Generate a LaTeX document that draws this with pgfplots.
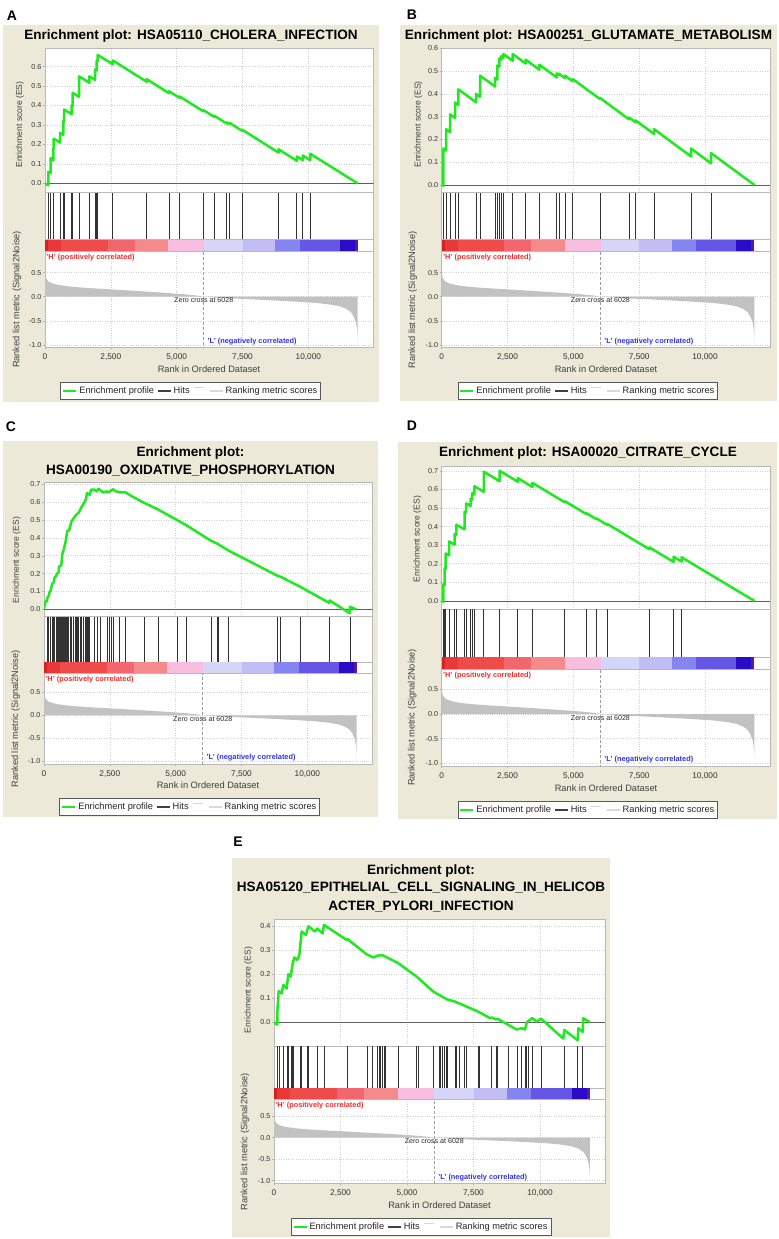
\documentclass[border=0pt]{standalone}
\usepackage{fontspec}
\setmainfont{Liberation Sans}
\usepackage{pgfplots}
\usepackage{pgfplotstable}
\pgfplotsset{compat=1.18}

\definecolor{beige}{HTML}{ECE9D8}
\definecolor{esgreen}{HTML}{1FEA1F}
\definecolor{Hred}{HTML}{F42A2A}
\definecolor{Lblue}{HTML}{3030F5}
\definecolor{cbA}{HTML}{D62222}
\definecolor{cbB}{HTML}{E83838}
\definecolor{cbC}{HTML}{F04B4B}
\definecolor{cbD}{HTML}{F2666E}
\definecolor{cbE}{HTML}{F58A8C}
\definecolor{cbF}{HTML}{F8BEE0}
\definecolor{cbG}{HTML}{D5D5F8}
\definecolor{cbH}{HTML}{C2BDF5}
\definecolor{cbI}{HTML}{8585F2}
\definecolor{cbJ}{HTML}{6656E6}
\definecolor{cbK}{HTML}{2A0CC8}
\definecolor{cbL}{HTML}{5A1A9E}

\newcommand{\ttlfont}{\bfseries\fontsize{13.6}{16}\selectfont}
\newcommand{\letfont}{\bfseries\fontsize{14}{16}\selectfont}
\newcommand{\eslfont}{\fontsize{8.6}{10}\selectfont}
\newcommand{\axlfont}{\fontsize{9.3}{11}\selectfont}
\newcommand{\ytfont}{\fontsize{7.2}{8}\selectfont}
\newcommand{\xtfont}{\fontsize{8.3}{9}\selectfont}
\newcommand{\lgfont}{\fontsize{9.3}{11}\selectfont}
\newcommand{\hlfont}{\bfseries\fontsize{7.4}{8}\selectfont}
\newcommand{\zcfont}{\fontsize{7.1}{8}\selectfont}

% ranked list metric (shared by all panels)
\pgfplotstableread[row sep=\\]{x y\\0 0\\0 0.5\\15 0.44\\40 0.39\\80 0.35\\130 0.32\\200 0.295\\320 0.27\\500 0.245\\800 0.22\\1200 0.198\\1700 0.178\\2500 0.152\\3300 0.125\\4000 0.1\\4700 0.075\\5300 0.05\\5800 0.022\\6028 0.0\\6500 -0.018\\7200 -0.038\\8000 -0.058\\8800 -0.08\\9600 -0.105\\10300 -0.13\\10800 -0.16\\11200 -0.2\\11450 -0.255\\11620 -0.32\\11720 -0.41\\11800 -0.52\\11845 -0.65\\11868 -0.8\\11876 -0.97\\11876 0\\}\metrictable

% running enrichment scores
\pgfplotstableread[row sep=\\]{x y\\0 0\\60 -0.005\\127 -0.01\\127 0.06\\215 0.053\\215 0.13\\317 0.118\\317 0.18\\330 0.179\\330 0.23\\570 0.21\\570 0.26\\697 0.25\\697 0.32\\722 0.318\\722 0.38\\1014 0.355\\1014 0.40\\1052 0.397\\1052 0.465\\1292 0.445\\1292 0.55\\1685 0.517\\1685 0.55\\1900 0.532\\1900 0.585\\1964 0.58\\1964 0.63\\2002 0.627\\2002 0.66\\2572 0.612\\2572 0.632\\3864 0.522\\3864 0.535\\4713 0.463\\4713 0.473\\5106 0.44\\5106 0.447\\6018 0.37\\6018 0.376\\6424 0.342\\6424 0.348\\6905 0.307\\6905 0.313\\7006 0.305\\7006 0.311\\7500 0.269\\7500 0.275\\8869 0.158\\8869 0.175\\9566 0.116\\9566 0.138\\9794 0.119\\9794 0.143\\10073 0.119\\10073 0.152\\11876 0\\}\esA

\pgfplotstableread[row sep=\\]{x y\\0 0\\63 -0.004\\63 0.16\\165 0.151\\165 0.245\\317 0.232\\317 0.31\\506 0.294\\506 0.362\\633 0.351\\633 0.42\\1304 0.363\\1304 0.40\\1456 0.387\\1456 0.48\\2026 0.432\\2026 0.47\\2114 0.463\\2114 0.525\\2190 0.519\\2190 0.555\\2253 0.55\\2253 0.565\\2342 0.557\\2342 0.575\\2697 0.545\\2697 0.575\\3190 0.533\\3190 0.55\\3709 0.506\\3709 0.528\\4368 0.472\\4368 0.49\\4456 0.482\\4456 0.488\\4684 0.469\\4684 0.48\\4975 0.455\\4975 0.465\\6014 0.377\\6014 0.382\\7115 0.288\\7115 0.296\\7368 0.275\\7368 0.283\\8064 0.224\\8064 0.245\\9470 0.125\\9470 0.16\\10229 0.095\\10229 0.14\\11876 0\\}\esB

\pgfplotstableread[row sep=\\]{x y\\0 0\\30 0.035\\88 0.05\\114 0.045\\114 0.06\\150 0.07\\177 0.075\\215 0.1\\240 0.1\\316 0.145\\366 0.15\\404 0.18\\455 0.185\\493 0.2\\556 0.205\\568 0.24\\640 0.245\\657 0.25\\695 0.31\\758 0.34\\821 0.38\\884 0.44\\935 0.44\\972 0.45\\1036 0.49\\1124 0.51\\1225 0.53\\1314 0.54\\1415 0.57\\1541 0.6\\1600 0.62\\1629 0.65\\1700 0.645\\1730 0.64\\1793 0.67\\1920 0.67\\1990 0.66\\2071 0.675\\2235 0.655\\2387 0.66\\2450 0.655\\2614 0.672\\2741 0.66\\2900 0.655\\3094 0.655\\3372 0.63\\3751 0.6\\4319 0.56\\5052 0.5\\5393 0.472\\6340 0.384\\6580 0.368\\6972 0.332\\8841 0.19\\8993 0.182\\9725 0.127\\10824 0.037\\10849 0.05\\11519 -0.013\\11615 -0.021\\11620 0.015\\11860 0\\}\esC

\pgfplotstableread[row sep=\\]{x y\\0 0\\63 -0.005\\63 0.09\\113 0.086\\113 0.175\\151 0.172\\151 0.255\\277 0.245\\277 0.32\\491 0.302\\491 0.36\\553 0.355\\553 0.41\\868 0.385\\868 0.48\\931 0.475\\931 0.525\\1094 0.511\\1094 0.55\\1157 0.545\\1157 0.58\\1245 0.572\\1245 0.617\\1598 0.587\\1598 0.695\\2202 0.644\\2202 0.70\\2893 0.641\\2893 0.66\\3447 0.613\\3447 0.635\\4680 0.53\\4680 0.536\\5497 0.467\\5497 0.472\\5875 0.44\\5875 0.444\\6277 0.41\\6277 0.415\\7888 0.278\\7888 0.288\\8806 0.21\\8806 0.238\\9108 0.212\\9108 0.235\\11876 0\\}\esD

\pgfplotstableread[row sep=\\]{x y\\0 0\\75 -0.007\\125 -0.01\\125 0.04\\175 0.13\\288 0.12\\351 0.155\\476 0.14\\539 0.2\\627 0.19\\702 0.245\\764 0.27\\877 0.26\\952 0.28\\1002 0.335\\1040 0.378\\1203 0.364\\1291 0.4\\1541 0.378\\1629 0.39\\1829 0.37\\1880 0.405\\2732 0.343\\2769 0.346\\3483 0.283\\3734 0.27\\3884 0.277\\4047 0.28\\4198 0.273\\4674 0.246\\5363 0.19\\5989 0.128\\6491 0.096\\6804 0.086\\7243 0.065\\7681 0.044\\7750 0.04\\8120 0.017\\8184 0.02\\8346 0.012\\8400 0.015\\8809 -0.011\\9122 -0.03\\9312 -0.025\\9436 -0.03\\9500 -0.002\\9560 0.005\\9711 0.017\\9874 0.003\\10038 0.015\\10876 -0.068\\10914 -0.032\\11417 -0.075\\11440 -0.025\\11605 -0.04\\11628 0.017\\11876 0\\}\esE

% hits
\pgfplotstableread[row sep=\\]{x y\\127 1\\215 1\\317 1\\570 1\\697 1\\722 1\\1014 1\\1052 1\\1292 1\\1685 1\\1900 1\\1964 1\\2002 1\\2572 1\\3864 1\\4713 1\\5106 1\\6018 1\\6424 1\\6905 1\\7006 1\\7500 1\\8869 1\\9566 1\\9794 1\\10073 1\\}\hitsA
\pgfplotstableread[row sep=\\]{x y\\63 1\\165 1\\317 1\\506 1\\633 1\\1304 1\\1456 1\\2026 1\\2114 1\\2190 1\\2253 1\\2342 1\\2697 1\\3190 1\\3709 1\\4368 1\\4456 1\\4684 1\\4975 1\\6014 1\\7115 1\\7368 1\\8064 1\\9470 1\\10229 1\\}\hitsB
\pgfplotstableread[row sep=\\]{x y\\114 1\\177 1\\240 1\\303 1\\366 1\\404 1\\455 1\\518 1\\556 1\\594 1\\620 1\\650 1\\680 1\\710 1\\740 1\\770 1\\800 1\\830 1\\860 1\\890 1\\920 1\\998 1\\1061 1\\1124 1\\1187 1\\1225 1\\1276 1\\1326 1\\1377 1\\1440 1\\1503 1\\1566 1\\1604 1\\1655 1\\1705 1\\1730 1\\1907 1\\2033 1\\2134 1\\2412 1\\2475 1\\2551 1\\2640 1\\2867 1\\3107 1\\3802 1\\4345 1\\5077 1\\5418 1\\6366 1\\6580 1\\6643 1\\6997 1\\8866 1\\8993 1\\9750 1\\10849 1\\11620 1\\}\hitsC
\pgfplotstableread[row sep=\\]{x y\\63 1\\113 1\\151 1\\277 1\\491 1\\553 1\\868 1\\931 1\\1094 1\\1157 1\\1245 1\\1598 1\\2202 1\\2893 1\\3447 1\\4680 1\\5497 1\\5875 1\\6277 1\\7888 1\\8806 1\\9108 1\\}\hitsD
\pgfplotstableread[row sep=\\]{x y\\125 1\\200 1\\351 1\\501 1\\539 1\\664 1\\702 1\\727 1\\977 1\\1015 1\\1253 1\\1291 1\\1629 1\\1880 1\\2769 1\\3521 1\\3709 1\\3884 1\\3947 1\\4010 1\\4072 1\\4147 1\\4198 1\\4674 1\\5363 1\\5425 1\\5989 1\\6215 1\\6265 1\\6328 1\\6403 1\\6465 1\\6516 1\\6804 1\\6841 1\\6967 1\\7142 1\\7243 1\\7681 1\\7719 1\\8184 1\\8346 1\\8395 1\\8808 1\\9162 1\\9312 1\\9436 1\\9500 1\\9560 1\\9711 1\\10038 1\\10914 1\\11417 1\\11605 1\\}\hitsE

\newcommand{\cseg}[3]{\addplot[draw=none, fill=#3] coordinates {(#1,1) (#2,1)} \closedcycle;}
\newcommand{\colorbar}{%
  \cseg{0}{115}{cbA}\cseg{110}{605}{cbB}\cseg{600}{2388}{cbC}\cseg{2383}{3405}{cbD}%
  \cseg{3400}{4669}{cbE}\cseg{4664}{6038}{cbF}\cseg{6033}{7508}{cbG}\cseg{7503}{8750}{cbH}%
  \cseg{8745}{9675}{cbI}\cseg{9670}{11196}{cbJ}\cseg{11191}{11765}{cbK}\cseg{11760}{11876}{cbL}}

\newcommand{\gsealegend}{%
  \addlegendimage{esgreen, line width=2bp}\addlegendentry{Enrichment profile}
  \addlegendimage{black!75, line width=1.2bp}\addlegendentry{Hits}
  \addlegendimage{legend image code/.code={\draw[gray!30, line width=0.8bp] (0bp,4bp) -- (10bp,4bp);}}\addlegendentry{}
  \addlegendimage{gray!30, line width=1.2bp}\addlegendentry{Ranking metric scores}}

\newcommand{\metricplots}{%
  \addplot[draw=none, fill=gray!48] table {\metrictable} \closedcycle;
  \addplot[densely dashed, gray!75, line width=0.6bp] coordinates {(6028,-1.3) (6028,1.3)};
  \node[anchor=north west, inner sep=1.2bp, yshift=-1.5bp, text=Hred, font=\hlfont] at (rel axis cs:0,1) {'H' (positively correlated)};
  \node[anchor=west, inner sep=0.5bp, text=Lblue, font=\hlfont] at (axis cs:6150,-0.93) {'L' (negatively correlated)};
  \node[inner sep=0.5bp, text=black!85, font=\zcfont] at (axis cs:6028,-0.075) {Zero cross at 6028};}

\pgfplotsset{
  gbase/.style={scale only axis, anchor=north west, xmin=0, xmax=12475,
    scaled x ticks=false, scaled y ticks=false,
    axis background/.style={fill=white},
    axis line style={gray!55, line width=0.6bp}, clip=true},
  gnum/.style={/pgf/number format/fixed, /pgf/number format/fixed zerofill,
    /pgf/number format/precision=1, /pgf/number format/assume math mode=true},
  es/.style={gbase, gnum,
    xtick={2500,5000,7500,10000}, xticklabels={}, xtick pos=bottom, ytick pos=left,
    tick align=outside, major tick length=2bp,
    tick style={gray!60, line width=0.5bp},
    xmajorgrids, ymajorgrids,
    grid style={dotted, gray!35, line width=0.6bp},
    yticklabel style={font=\ytfont, text=black!80, inner sep=1.5bp}},
  hitsax/.style={gbase, ymin=0, ymax=1, xtick=\empty, ytick=\empty},
  metric/.style={gbase, gnum,
    ytick={-1,-0.5,0,0.5},
    xtick={0,2500,5000,7500,10000}, xticklabels={0,{2,500},{5,000},{7,500},{10,000}},
    xtick pos=bottom, ytick pos=left,
    tick align=outside, major tick length=2bp, tick style={gray!60, line width=0.5bp},
    xmajorgrids, ymajorgrids, grid style={dotted, gray!35, line width=0.6bp},
    yticklabel style={font=\ytfont, text=black!80, inner sep=1.5bp},
    xticklabel style={font=\xtfont, text=black!80, inner sep=1.5bp, yshift=-3bp},
    legend columns=-1,
    legend style={draw=black!65, line width=0.8bp, fill=white, font=\lgfont, text=black!85,
      anchor=north, inner xsep=1.5bp, inner ysep=2.5bp,
      /tikz/every even column/.append style={column sep=1.5bp}},
    legend image code/.code={\draw[##1] (0bp,0bp) -- (13bp,0bp);}},
}

\begin{document}
\begin{tikzpicture}[x=1bp,y=1bp]
% panel backgrounds
\fill[beige] (3,-25) rectangle (379,-402);
\fill[beige] (400,-25) rectangle (777,-401);
\fill[beige] (3,-441) rectangle (378,-817);
\fill[beige] (398.3,-441.7) rectangle (777,-819);
\fill[beige] (232,-858) rectangle (610,-1237);

% panel letters
\node[anchor=base, font=\letfont] at (12,-20) {A};
\node[anchor=base, font=\letfont] at (412,-19.5) {B};
\node[anchor=base, font=\letfont] at (11,-431) {C};
\node[anchor=base, font=\letfont] at (412,-430) {D};
\node[anchor=base, font=\letfont] at (238,-846) {E};

% titles
\node[anchor=base, font=\ttlfont] at (191,-39.9) {Enrichment plot: HSA05110\_CHOLERA\_INFECTION};
\node[anchor=base, font=\ttlfont] at (588.5,-39.9) {Enrichment plot: HSA00251\_GLUTAMATE\_METABOLISM};
\node[anchor=base, font=\ttlfont] at (190.5,-456) {Enrichment plot:};
\node[anchor=base, font=\ttlfont] at (190.5,-474.3) {HSA00190\_OXIDATIVE\_PHOSPHORYLATION};
\node[anchor=base, font=\ttlfont] at (588,-456) {Enrichment plot: HSA00020\_CITRATE\_CYCLE};
\node[anchor=base, font=\ttlfont] at (421,-874) {Enrichment plot:};
\node[anchor=base, font=\ttlfont] at (421,-891.7) {HSA05120\_EPITHELIAL\_CELL\_SIGNALING\_IN\_HELICOB};
\node[anchor=base, font=\ttlfont] at (421,-910) {ACTER\_PYLORI\_INFECTION};

% ================= Panel A =================
\begin{axis}[es, at={(45bp,-48.3bp)}, width=328.5bp, height=144.4bp, ymin=-0.048, ymax=0.694, ytick={0,0.1,0.2,0.3,0.4,0.5,0.6}]
\addplot[gray!75!black, line width=0.7bp] coordinates {(0,0) (12475,0)};
\addplot[esgreen, line width=2.5bp, line join=round] table {\esA};
\end{axis}
\begin{axis}[hitsax, at={(45bp,-192.7bp)}, width=328.5bp, height=47bp]
\addplot[ycomb, black!80, line width=0.9bp] table {\hitsA};
\end{axis}
\begin{axis}[hitsax, at={(45bp,-239.7bp)}, width=328.5bp, height=12bp]
\colorbar
\end{axis}
\begin{axis}[metric, at={(45bp,-251.7bp)}, width=328.5bp, height=95.6bp, ymin=-1.048, ymax=0.932, legend style={at={(0.444,-0.363)}}]
\gsealegend
\metricplots
\end{axis}
\node[rotate=90, font=\eslfont, text=black!75] at (20,-124.6) {Enrichment score (ES)};
\node[rotate=90, font=\axlfont, text=black!75] at (17,-299.5) {Ranked list metric (Signal2Noise)};
\node[anchor=base, font=\axlfont, text=black!75] at (209,-372.7) {Rank in Ordered Dataset};

% ================= Panel B =================
\begin{axis}[es, at={(441.7bp,-48.3bp)}, width=328.5bp, height=144.4bp, ymin=-0.034, ymax=0.6, ytick={0,0.1,0.2,0.3,0.4,0.5,0.6}]
\addplot[gray!75!black, line width=0.7bp] coordinates {(0,0) (12475,0)};
\addplot[esgreen, line width=2.5bp, line join=round] table {\esB};
\end{axis}
\begin{axis}[hitsax, at={(441.7bp,-192.7bp)}, width=328.5bp, height=47bp]
\addplot[ycomb, black!80, line width=0.9bp] table {\hitsB};
\end{axis}
\begin{axis}[hitsax, at={(441.7bp,-239.7bp)}, width=328.5bp, height=12bp]
\colorbar
\end{axis}
\begin{axis}[metric, at={(441.7bp,-251.7bp)}, width=328.5bp, height=95.6bp, ymin=-1.048, ymax=0.932, legend style={at={(0.445,-0.363)}}]
\gsealegend
\metricplots
\end{axis}
\node[rotate=90, font=\eslfont, text=black!75] at (418.3,-124.5) {Enrichment score (ES)};
\node[rotate=90, font=\axlfont, text=black!75] at (412.7,-300) {Ranked list metric (Signal2Noise)};
\node[anchor=base, font=\axlfont, text=black!75] at (606,-372.7) {Rank in Ordered Dataset};

% ================= Panel C =================
\begin{axis}[es, at={(44bp,-482.3bp)}, width=328.5bp, height=134.4bp, ymin=-0.041, ymax=0.711, ytick={0,0.1,0.2,0.3,0.4,0.5,0.6,0.7}]
\addplot[gray!75!black, line width=0.7bp] coordinates {(0,0) (12475,0)};
\addplot[esgreen, line width=2.5bp, line join=round] table {\esC};
\end{axis}
\begin{axis}[hitsax, at={(44bp,-616.7bp)}, width=328.5bp, height=45.6bp]
\addplot[ycomb, black!80, line width=0.9bp] table {\hitsC};
\end{axis}
\begin{axis}[hitsax, at={(44bp,-662.3bp)}, width=328.5bp, height=11.4bp]
\colorbar
\end{axis}
\begin{axis}[metric, at={(44bp,-673.7bp)}, width=328.5bp, height=90.3bp, ymin=-1.066, ymax=0.91, legend style={at={(0.444,-0.377)}}]
\gsealegend
\metricplots
\end{axis}
\node[rotate=90, font=\eslfont, text=black!75] at (16.7,-560) {Enrichment score (ES)};
\node[rotate=90, font=\axlfont, text=black!75] at (15.7,-719) {Ranked list metric (Signal2Noise)};
\node[anchor=base, font=\axlfont, text=black!75] at (208,-788.7) {Rank in Ordered Dataset};

% ================= Panel D =================
\begin{axis}[es, at={(441.7bp,-466.7bp)}, width=328.5bp, height=142.6bp, ymin=-0.045, ymax=0.722, ytick={0,0.1,0.2,0.3,0.4,0.5,0.6,0.7}]
\addplot[gray!75!black, line width=0.7bp] coordinates {(0,0) (12475,0)};
\addplot[esgreen, line width=2.5bp, line join=round] table {\esD};
\end{axis}
\begin{axis}[hitsax, at={(441.7bp,-609.3bp)}, width=328.5bp, height=48bp]
\addplot[ycomb, black!80, line width=0.9bp] table {\hitsD};
\end{axis}
\begin{axis}[hitsax, at={(441.7bp,-657.3bp)}, width=328.5bp, height=12bp]
\colorbar
\end{axis}
\begin{axis}[metric, at={(441.7bp,-669.3bp)}, width=328.5bp, height=96.7bp, ymin=-1.055, ymax=0.907, legend style={at={(0.445,-0.362)}}]
\gsealegend
\metricplots
\end{axis}
\node[rotate=90, font=\eslfont, text=black!75] at (417.3,-539) {Enrichment score (ES)};
\node[rotate=90, font=\axlfont, text=black!75] at (412.3,-717.5) {Ranked list metric (Signal2Noise)};
\node[anchor=base, font=\axlfont, text=black!75] at (606,-791) {Rank in Ordered Dataset};

% ================= Panel E =================
\begin{axis}[es, at={(274bp,-919bp)}, width=331bp, height=127bp, xmax=12445, ymin=-0.099, ymax=0.43, ytick={0,0.1,0.2,0.3,0.4}]
\addplot[gray!75!black, line width=0.7bp] coordinates {(0,0) (12445,0)};
\addplot[esgreen, line width=2.5bp, line join=round] table {\esE};
\end{axis}
\begin{axis}[hitsax, at={(274bp,-1046bp)}, width=331bp, height=42.3bp, xmax=12445]
\addplot[ycomb, black!80, line width=0.9bp] table {\hitsE};
\end{axis}
\begin{axis}[hitsax, at={(274bp,-1088.3bp)}, width=331bp, height=11bp, xmax=12445]
\colorbar
\end{axis}
\begin{axis}[metric, at={(274bp,-1099.3bp)}, width=331bp, height=84bp, xmax=12445, ymin=-1.06, ymax=0.893, legend style={at={(0.444,-0.413)}}]
\gsealegend
\metricplots
\end{axis}
\node[rotate=90, font=\eslfont, text=black!75] at (248.3,-990) {Enrichment score (ES)};
\node[rotate=90, font=\axlfont, text=black!75] at (245,-1141.5) {Ranked list metric (Signal2Noise)};
\node[anchor=base, font=\axlfont, text=black!75] at (439.5,-1208.5) {Rank in Ordered Dataset};

\pgfresetboundingbox
\path[use as bounding box] (0,0) rectangle (779,-1239);
\end{tikzpicture}
\end{document}
